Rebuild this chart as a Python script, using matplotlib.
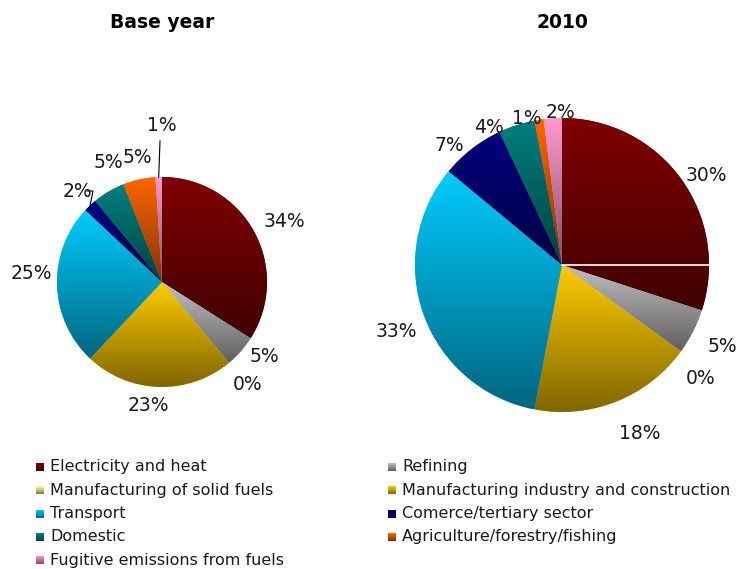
import numpy as np
import matplotlib.pyplot as plt
from matplotlib.colors import LinearSegmentedColormap, to_rgb

W, H = 738, 569

sectors = ["Electricity and heat", "Refining", "Manufacturing of solid fuels",
           "Manufacturing industry and construction", "Transport",
           "Comerce/tertiary sector", "Domestic", "Agriculture/forestry/fishing",
           "Fugitive emissions from fuels"]
colors = ["#800000", "#C0C0C0", "#FFFF99", "#FFCC00", "#00CCFF",
          "#000080", "#008080", "#FF6600", "#FF99CC"]
base_year = [34, 5, 0, 23, 25, 2, 5, 5, 1]
year_2010 = [30, 5, 0, 18, 33, 7, 4, 1, 2]

fig = plt.figure(figsize=(W / 100, H / 100), dpi=100)
ax = fig.add_axes([0, 0, 1, 1])
grad = np.linspace(0, 1, 256).reshape(-1, 1)


def gradient_cmap(c):
    top = np.array(to_rgb(c))
    return LinearSegmentedColormap.from_list("g", [top * 0.5, top])


def draw_pie(values, cx, cy, r, title, lab_f, nudges):
    # cx, cy in screen pixels (y down)
    wedges, _ = ax.pie(values, center=(cx, H - cy), radius=r, startangle=90,
                       counterclock=False, colors=colors,
                       wedgeprops=dict(linewidth=0))
    for w, c, v in zip(wedges, colors, values):
        if v == 0:
            continue
        x0, y0, x1, y1 = w.get_path().get_extents().extents
        im = ax.imshow(grad, extent=(x0, x1, y0, y1), origin="lower",
                       cmap=gradient_cmap(c), aspect="auto",
                       interpolation="bilinear", zorder=2)
        im.set_clip_path(w)

    total = float(sum(values))
    cum = 0
    mids = []
    for v, (dx, dy) in zip(values, nudges):
        start = 90 - 360 * cum / total
        mid = np.deg2rad(start - 180 * v / total)
        mids.append(mid)
        cum += v
        x = cx + lab_f * r * np.cos(mid) + dx
        y = cy - lab_f * r * np.sin(mid) + dy
        ax.text(x, H - y, f"{v}%", ha="center", va="center", fontsize=13.5,
                color="#1a1a1a", zorder=5)
    ax.text(cx, H - 22, title, ha="center", va="center", fontsize=13.5,
            fontweight="bold")
    return mids


mids_l = draw_pie(base_year, 162, 282, 105, "Base year", 1.25,
                  [(7, 3), (4, -12), (2, 1), (-10, -8), (1, -13),
                   (5, 5), (13, -7), (4, 4), (4, -25)])
mids_r = draw_pie(year_2010, 562, 265, 147, "2010", 1.2,
                  [(2, 14), (3, 1), (-4, 10), (13, 4), (0, 7),
                   (-5, 20), (-19, 30), (-8, 28), (10, 24)])

# leader lines on the base-year pie
cx, cy, r = 162, 282, 105
m = mids_l[8]
ax.plot([cx + r * np.cos(m), 160], [H - (cy - r * np.sin(m)), H - 141],
        color="black", lw=0.8, zorder=4)
m = mids_l[5]
ex, ey = cx + r * np.cos(m), cy - r * np.sin(m)
ax.plot([87, 93, ex], [H - 191, H - 191, H - ey], color="black", lw=0.8, zorder=4)

# white line inside the 2010 pie
ax.plot([562, 562 + 147], [H - 265, H - 265], color="white", lw=1.2, zorder=4)

# legend, two columns, gradient swatches
order = [0, 1, 2, 3, 4, 5, 6, 7, 8]
for k, i in enumerate(order):
    row, col = divmod(k, 2)
    mx = 36 if col == 0 else 388
    ty = 467 + 23.3 * row
    ax.imshow(grad, extent=(mx, mx + 8, H - ty - 4, H - ty + 4), origin="lower",
              cmap=gradient_cmap(colors[i]), aspect="auto", zorder=3)
    ax.text(mx + 14, H - ty, sectors[i], ha="left", va="center", fontsize=11.5,
            color="#1a1a1a")

ax.set_xlim(0, W)
ax.set_ylim(0, H)
ax.axis("off")
fig.savefig("out.png", dpi=100)
